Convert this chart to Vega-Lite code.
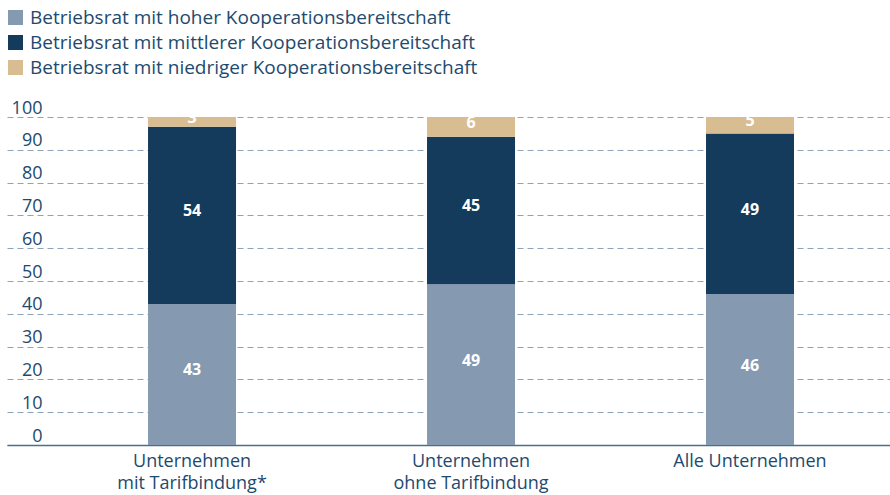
{
  "$schema": "https://vega.github.io/schema/vega-lite/v6.json",
  "autosize": {"type": "none"},
  "width": 883,
  "height": 328,
  "padding": {"left": 7, "top": 117, "right": 0, "bottom": 50},
  "background": "white",
  "config": {
    "view": {"stroke": null},
    "font": "Open Sans"
  },
  "data": {
    "values": [
      {"kat": "Unternehmen|mit Tarifbindung*", "typ": "Betriebsrat mit hoher Kooperationsbereitschaft", "wert": 43, "o": 1},
      {"kat": "Unternehmen|mit Tarifbindung*", "typ": "Betriebsrat mit mittlerer Kooperationsbereitschaft", "wert": 54, "o": 2},
      {"kat": "Unternehmen|mit Tarifbindung*", "typ": "Betriebsrat mit niedriger Kooperationsbereitschaft", "wert": 3, "o": 3},
      {"kat": "Unternehmen|ohne Tarifbindung", "typ": "Betriebsrat mit hoher Kooperationsbereitschaft", "wert": 49, "o": 1},
      {"kat": "Unternehmen|ohne Tarifbindung", "typ": "Betriebsrat mit mittlerer Kooperationsbereitschaft", "wert": 45, "o": 2},
      {"kat": "Unternehmen|ohne Tarifbindung", "typ": "Betriebsrat mit niedriger Kooperationsbereitschaft", "wert": 6, "o": 3},
      {"kat": "Alle Unternehmen", "typ": "Betriebsrat mit hoher Kooperationsbereitschaft", "wert": 46, "o": 1},
      {"kat": "Alle Unternehmen", "typ": "Betriebsrat mit mittlerer Kooperationsbereitschaft", "wert": 49, "o": 2},
      {"kat": "Alle Unternehmen", "typ": "Betriebsrat mit niedriger Kooperationsbereitschaft", "wert": 5, "o": 3}
    ]
  },
  "encoding": {
    "x": {
      "field": "kat",
      "type": "nominal",
      "sort": null,
      "scale": {"paddingInner": 0.6846, "paddingOuter": 0.4248, "align": 0.595},
      "axis": {
        "title": null,
        "labelAngle": 0,
        "labelExpr": "split(datum.value, '|')",
        "labelFontSize": 18,
        "labelColor": "#1e4a6e",
        "labelPadding": 7,
        "labelLineHeight": 22,
        "ticks": false,
        "domain": true,
        "domainColor": "#4d6d8c",
        "domainWidth": 1.5,
        "grid": false
      }
    },
    "y": {
      "field": "wert",
      "type": "quantitative",
      "stack": "zero",
      "scale": {"domain": [0, 100], "nice": false},
      "axis": {
        "title": null,
        "values": [0, 10, 20, 30, 40, 50, 60, 70, 80, 90, 100],
        "domain": false,
        "ticks": false,
        "tickSize": 0,
        "labelAlign": "right",
        "labelBaseline": "alphabetic",
        "labelOffset": -4,
        "labelPadding": -35,
        "labelFontSize": 18,
        "labelColor": "#1e4a6e",
        "grid": true,
        "gridDash": [6, 4],
        "gridColor": "#8fa3b8",
        "gridWidth": 1
      }
    },
    "order": {"field": "o", "type": "quantitative"}
  },
  "layer": [
    {
      "mark": {"type": "bar"},
      "encoding": {
        "color": {
          "field": "typ",
          "type": "nominal",
          "sort": null,
          "scale": {
            "domain": [
              "Betriebsrat mit hoher Kooperationsbereitschaft",
              "Betriebsrat mit mittlerer Kooperationsbereitschaft",
              "Betriebsrat mit niedriger Kooperationsbereitschaft"
            ],
            "range": ["#8599b0", "#143b5b", "#d9bd92"]
          },
          "legend": {
            "title": null,
            "orient": "none",
            "legendX": -1,
            "legendY": -109,
            "symbolType": "square",
            "symbolSize": 225,
            "symbolStrokeWidth": 0,
            "symbolOpacity": 1,
            "labelFontSize": 19,
            "labelColor": "#1e4a6e",
            "labelOffset": 5,
            "rowPadding": 5,
            "labelLimit": 600
          }
        }
      }
    },
    {
      "mark": {"type": "text", "color": "white", "fontSize": 16, "fontWeight": "bold", "baseline": "middle", "dy": -4},
      "encoding": {
        "y": {"field": "wert", "type": "quantitative", "stack": "zero", "bandPosition": 0.5},
        "text": {"field": "wert", "type": "quantitative"}
      }
    }
  ]
}
